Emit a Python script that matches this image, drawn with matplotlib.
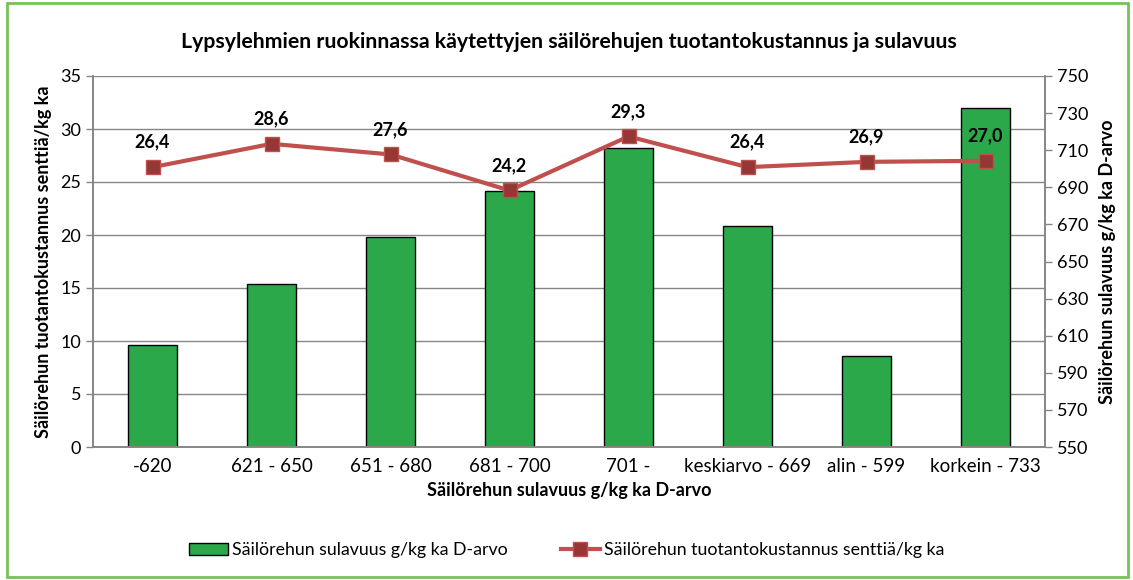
import matplotlib
matplotlib.use("Agg")
import matplotlib.pyplot as plt
from matplotlib.patches import Rectangle

categories = ["-620", "621 - 650", "651 - 680", "681 - 700", "701 -", "keskiarvo - 669", "alin - 599", "korkein - 733"]
sulavuus = [605, 638, 663, 688, 711, 669, 599, 733]
kustannus = [26.4, 28.6, 27.6, 24.2, 29.3, 26.4, 26.9, 27.0]
kust_labels = ["26,4", "28,6", "27,6", "24,2", "29,3", "26,4", "26,9", "27,0"]

plt.rcParams['font.family'] = ['Lato', 'DejaVu Sans']
fig = plt.figure(figsize=(11.33, 5.8), dpi=100)
W, H = 1133, 580
ax = fig.add_axes([93 / W, 1 - 447 / H, (1045 - 93) / W, (447 - 76) / H])
ax2 = ax.twinx()

grey = "#868686"
x = list(range(len(categories)))
bars = ax2.bar(x, sulavuus, width=0.41, bottom=0, color="#2AA84A", edgecolor="black", linewidth=1,
               label="Säilörehun sulavuus g/kg ka D-arvo", zorder=2)
ax2.set_ylim(550, 750)
ax2.set_yticks(range(550, 751, 20))

ax.set_zorder(ax2.get_zorder() + 1)
ax.patch.set_visible(False)
line, = ax.plot(x, kustannus, color="#C0504D", linewidth=3, marker="s", markersize=10,
                markerfacecolor="#953735", markeredgecolor="#C0504D", markeredgewidth=1,
                label="Säilörehun tuotantokustannus senttiä/kg ka", zorder=3)
for xi, v, lab in zip(x, kustannus, kust_labels):
    ax.annotate(lab, (xi, v), xytext=(0, 12), textcoords="offset points", ha="center", va="bottom",
                fontsize=13, fontweight="bold", color="black")

ax.set_ylim(0, 35)
ax.set_yticks(range(0, 36, 5))
ax.set_xlim(-0.5, len(categories) - 0.5)
ax.set_xticks(x)
ax.set_xticklabels(categories)

for yv in range(5, 36, 5):
    ax2.axhline(550 + yv / 35 * 200, color=grey, linewidth=1, zorder=1)

for a in (ax, ax2):
    a.spines["top"].set_visible(False)
    for s in ("left", "right", "bottom"):
        a.spines[s].set_color(grey)
        a.spines[s].set_linewidth(1.2)
    a.tick_params(axis="both", colors=grey, labelcolor="black", labelsize=13, length=5, width=1)
ax.tick_params(axis="x", length=0, pad=8, labelsize=13.5)
ax2.tick_params(axis="x", length=0)

ax.set_ylabel("Säilörehun tuotantokustannus senttiä/kg ka", fontsize=13, fontweight="bold", labelpad=6)
ax2.set_ylabel("Säilörehun sulavuus g/kg ka D-arvo", fontsize=13, fontweight="bold", labelpad=8)
ax.set_xlabel("Säilörehun sulavuus g/kg ka D-arvo", fontsize=13, fontweight="bold", labelpad=5)

fig.text((93 + 1045) / 2 / W, 1 - 42 / H, "Lypsylehmien ruokinnassa käytettyjen säilörehujen tuotantokustannus ja sulavuus",
         ha="center", va="center", fontsize=15.3, fontweight="bold")

fig.legend([bars, line], [bars.get_label(), line.get_label()], loc="center", bbox_to_anchor=(0.5, 1 - 550 / H),
           ncol=2, frameon=False, fontsize=12.8, handlelength=2.2, columnspacing=3.0, handletextpad=0.2)

fig.patches.append(Rectangle((7 / W, 3 / H), (1128 - 7) / W, (577 - 3) / H, transform=fig.transFigure,
                             fill=False, edgecolor="#77C159", linewidth=2))

fig.savefig("out.png", dpi=100)
